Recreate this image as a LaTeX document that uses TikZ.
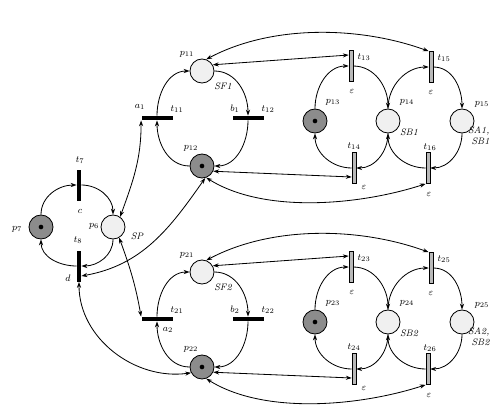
\documentclass[tikz,border=0pt]{standalone}
\usetikzlibrary{arrows.meta}
\begin{document}
\begin{tikzpicture}[x=0.03cm, y=-0.03cm, line width=0.7pt,
    lightplace/.style={circle, draw, fill=gray!12, minimum size=0.72cm, inner sep=0pt},
    markplace/.style={lightplace, fill=gray!90,
      path picture={\fill[black] (path picture bounding box.center) circle (2pt);}},
    hbar/.style={rectangle, fill=black, minimum width=0.93cm, minimum height=0.12cm, inner sep=0pt},
    vbar/.style={hbar, minimum width=0.12cm, minimum height=0.93cm},
    epsbar/.style={vbar, draw, fill=gray!55, line width=0.5pt},
    lbl/.style={font=\footnotesize\itshape, inner sep=1pt},
    arc/.style={-{Stealth[length=5pt,width=3.5pt]}},
    biarc/.style={{Stealth[length=5pt,width=3.5pt]}-{Stealth[length=5pt,width=3.5pt]}}
  ]
    \useasboundingbox (0,0) rectangle (502,420);
    % left subnet
    \node[markplace]  (p7) at (41,227)  {};
    \node[lightplace] (p6) at (113,227) {};
    \node[vbar] (t7) at (79,185) {};
    \node[vbar] (t8) at (79,266) {};
    \node[lbl] (lp7) at (17,229)  {$p_7$};
    \node[lbl] (lp6) at (94,226)  {$p_6$};
    \node[lbl] (lsp) at (137,236) {SP};
    \node[lbl] (lt7) at (80,160)  {$t_7$};
    \node[lbl] (lc)  at (80,211)  {$c$};
    \node[lbl] (lt8) at (78,240)  {$t_8$};
    \node[lbl] (ld)  at (68,278)  {$d$};
    \draw[arc] (p7.north) to[out=90,in=180] (t7.west);
    \draw[arc] (t7.east) to[out=0,in=90] (p6.north);
    \draw[arc] (p6.south) to[out=-90,in=0] (t8.east);
    \draw[arc] (t8.west) to[out=180,in=-90] (p7.south);
    % the two robot subnets
    \foreach \n/\dy in {1/0,2/201} {
      \node[lightplace] (p\n1) at (202,71+\dy)  {};
      \node[markplace]  (p\n2) at (202,166+\dy) {};
      \node[hbar] (t\n1) at (157,118+\dy) {};
      \node[hbar] (t\n2) at (248,118+\dy) {};
      \node[markplace]  (p\n3) at (315,121+\dy) {};
      \node[lightplace] (p\n4) at (388,121+\dy) {};
      \node[lightplace] (p\n5) at (462,121+\dy) {};
      \node[epsbar] (t\n3) at (351,66+\dy)  {};
      \node[epsbar] (t\n4) at (354,168+\dy) {};
      \node[epsbar] (t\n5) at (431,67+\dy)  {};
      \node[epsbar] (t\n6) at (428,168+\dy) {};
      \node[lbl] (lp\n1) at (187,54+\dy)  {$p_{\n1}$};
      \node[lbl] (lsf\n) at (223,86+\dy)  {SF\n};
      \node[lbl] (lp\n2) at (191,148+\dy) {$p_{\n2}$};
      \node[lbl] (lt\n1) at (177,109+\dy) {$t_{\n1}$};
      \node[lbl] (lb\n)  at (235,109+\dy) {$b_\n$};
      \node[lbl] (lt\n2) at (268,109+\dy) {$t_{\n2}$};
      \node[lbl] (lp\n3) at (333,102+\dy) {$p_{\n3}$};
      \node[lbl] (lp\n4) at (407,102+\dy) {$p_{\n4}$};
      \node[lbl] (lsb\n) at (409,132+\dy) {SB\n};
      \node[lbl] (lp\n5) at (482,104+\dy) {$p_{\n5}$};
      \node[lbl, align=right, anchor=east] (lsa\n) at (491,136+\dy) {SA\n,\\SB\n};
      \node[lbl] (lt\n3) at (364,57+\dy)  {$t_{\n3}$};
      \node[lbl] (le\n3) at (352,91+\dy)  {$\varepsilon$};
      \node[lbl] (lt\n5) at (444,58+\dy)  {$t_{\n5}$};
      \node[lbl] (le\n5) at (431,92+\dy)  {$\varepsilon$};
      \node[lbl] (lt\n4) at (354,146+\dy) {$t_{\n4}$};
      \node[lbl] (le\n4) at (364,187+\dy) {$\varepsilon$};
      \node[lbl] (lt\n6) at (430,147+\dy) {$t_{\n6}$};
      \node[lbl] (le\n6) at (429,194+\dy) {$\varepsilon$};
      \draw[arc] (t\n1.north) to[out=90,in=180] (p\n1.west);
      \draw[arc] (p\n1.east) to[out=0,in=90] (t\n2.north);
      \draw[arc] (t\n2.south) to[out=-90,in=0] (p\n2.east);
      \draw[arc] (p\n2.west) to[out=180,in=-90] (t\n1.south);
      \draw[arc] (p\n3.north) to[out=90,in=180] (t\n3.west);
      \draw[arc] (t\n3.east) to[out=0,in=90] (p\n4.north);
      \draw[arc] (p\n4.north) to[out=90,in=180] (t\n5.west);
      \draw[arc] (t\n5.east) to[out=0,in=90] (p\n5.north);
      \draw[arc] (p\n5.south) to[out=-90,in=0] (t\n6.east);
      \draw[arc] (t\n6.west) to[out=180,in=-90] (p\n4.south);
      \draw[arc] (p\n4.south) to[out=-90,in=0] (t\n4.east);
      \draw[arc] (t\n4.west) to[out=180,in=-90] (p\n3.south);
      \draw[biarc] (p\n1.70) to[out=28,in=160,looseness=0.85] (t\n5.north west);
      \draw[biarc] (p\n1.30) -- ([yshift=0.33cm]t\n3.west);
      \draw[biarc] (p\n2.-25) -- ([yshift=-0.27cm]t\n4.west);
      \draw[biarc] (p\n2.-70) to[out=-32,in=198,looseness=0.8] (t\n6.south west);
    }
    \node[lbl] (la1) at (140,107) {$a_1$};
    \node[lbl] (la2) at (168,330) {$a_2$};
    % links to the shared place and transitions
    \draw[biarc] (p6.55) to[out=70,in=-90] (t11.south west);
    \draw[biarc] (p6.-60) to[out=-70,in=100] (t21.north west);
    \draw[biarc] ([yshift=-0.3cm]t8.east) to[out=10,in=-125] (p12.-75);
    \draw[biarc] (t8.south) to[out=-90,in=188] (p22.208);
  \end{tikzpicture}
\end{document}
